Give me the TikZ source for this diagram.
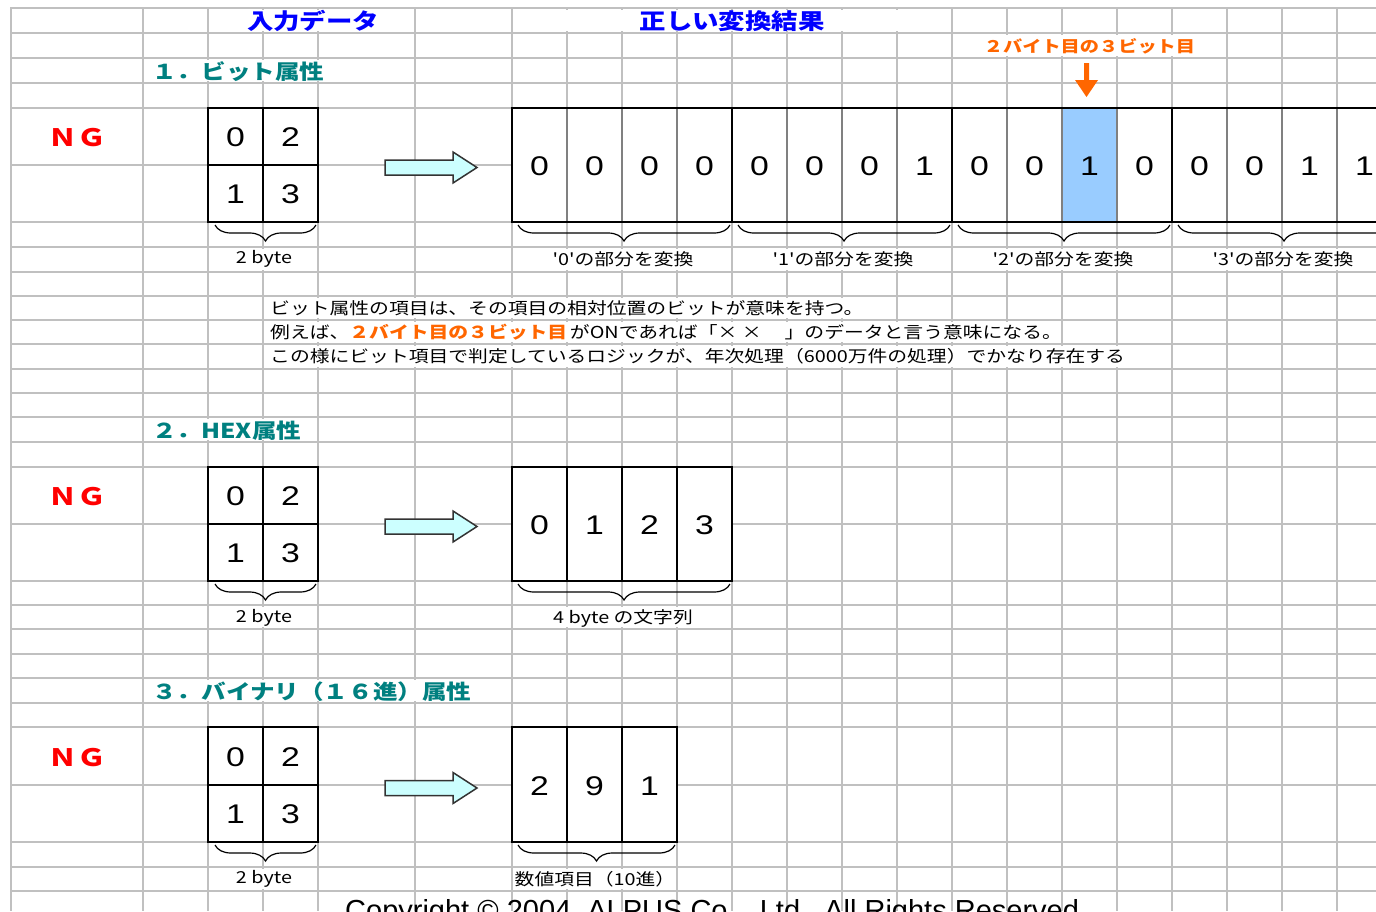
\documentclass[tikz,border=0pt]{standalone}
\usepackage{fontspec}
\setmainfont{Liberation Sans}
\newfontfamily\jp[FakeStretch=1.2]{Noto Sans CJK JP}
\newfontfamily\dig[FakeStretch=1.25]{Liberation Sans}
\usetikzlibrary{decorations.pathreplacing}
\definecolor{gridc}{HTML}{C0C0C0}
\definecolor{tealc}{HTML}{008080}
\definecolor{orangec}{HTML}{FF6600}
\definecolor{bluec}{HTML}{0000FF}
\definecolor{cyanc}{HTML}{CCFFFF}
\definecolor{bitblue}{HTML}{99CCFF}
\definecolor{bitgray}{HTML}{808080}
\definecolor{ngred}{HTML}{FF0000}
\begin{document}
\begin{tikzpicture}[x=1pt,y=-1pt,
  gridline/.style={draw=gridc, line width=1.8pt},
  mask/.style={fill=white},
  boxline/.style={draw=black, line width=2pt},
  bitline/.style={draw=bitgray, line width=2pt},
  digit/.style={font=\dig\fontsize{27}{30}\selectfont, inner sep=0pt},
  lbl/.style={font=\jp\fontsize{16.5}{20}\selectfont, inner sep=0pt},
  sect/.style={font=\jp\bfseries\fontsize{20.5}{24}\selectfont, text=tealc, anchor=west, inner sep=0pt},
  head/.style={font=\jp\bfseries\fontsize{22}{26}\selectfont, text=bluec, inner sep=0pt},
  ng/.style={font=\jp\bfseries\fontsize{24}{26}\selectfont, text=ngred, inner sep=0pt},
  bracebar/.style={decorate, decoration={brace, mirror, amplitude=16pt, aspect=0.5}, line width=1.2pt},
  blockarrow/.style={fill=cyanc, draw=black!80, line width=1.5pt, line join=miter}
]
\useasboundingbox (0,0) rectangle (1376,911);
\clip (0,0) rectangle (1376,911);
\fill[white] (0,0) rectangle (1376,911);

% ---------- grid ----------
\foreach \yy in {8,33,58,83,108,165,222,247,272,296,320,344,369,393,417,442,467,524,581,605,629,654,678,703,727,785,842,867,891}
  \draw[gridline] (10.1,\yy) -- (1376,\yy);
\foreach \xx in {11,143,208,263,318,415,512,567,...,1392}
  \draw[gridline] (\xx,7.1) -- (\xx,911);

% ---------- hidden grid segments (merged cells / overflowing text) ----------
\fill[mask] (211,10) rectangle (412,31);
\fill[mask] (515,10) rectangle (949,31);
\fill[mask] (955,35) rectangle (1224,56);
\fill[mask] (146,60) rectangle (412,81);
\fill[mask] (211,249) rectangle (315,270);
\fill[mask] (515,249) rectangle (729,270);
\fill[mask] (735,249) rectangle (949,270);
\fill[mask] (955,249) rectangle (1169,270);
\fill[mask] (1175,249) rectangle (1389,270);
\fill[mask] (266,298) rectangle (894,318);
\fill[mask] (266,322) rectangle (1059,342);
\fill[mask] (266,346) rectangle (1169,367);
\fill[mask] (146,419) rectangle (315,440);
\fill[mask] (211,607) rectangle (315,627);
\fill[mask] (515,607) rectangle (729,627);
\fill[mask] (146,680) rectangle (509,701);
\fill[mask] (211,869) rectangle (315,889);
\fill[mask] (515,869) rectangle (674,889);

% ---------- headers ----------
\node[head] (hin) at (313,21) {入力データ};
\node[head] (hout) at (732,21) {正しい変換結果};

% ---------- section titles ----------
\node[sect] (s1) at (152,72) {１．ビット属性};
\node[sect] (s2) at (152,431) {２．HEX属性};
\node[sect] (s3) at (152,692) {３．バイナリ（１６進）属性};

% ---------- NG ----------
\node[ng] (ng1) at (77.5,138) {ＮＧ};
\node[ng] (ng2) at (77.5,497) {ＮＧ};
\node[ng] (ng3) at (77.5,758) {ＮＧ};

% ---------- input boxes ----------
\foreach \t/\m/\b/\s in {108/165/222/1, 467/524/581/2, 727/785/842/3}{
  \filldraw[fill=white, boxline] (208,\t) rectangle (318,\b);
  \draw[boxline] (263,\t) -- (263,\b);
  \draw[boxline] (208,\m) -- (318,\m);
  \node[digit] (in\s a) at (235.5,{(\t+\m)/2+1}) {0};
  \node[digit] (in\s b) at (290.5,{(\t+\m)/2+1}) {2};
  \node[digit] (in\s c) at (235.5,{(\m+\b)/2+1}) {1};
  \node[digit] (in\s d) at (290.5,{(\m+\b)/2+1}) {3};
  \draw[bracebar] (215,{\b+3}) -- (316,{\b+3});
  \node[lbl] (byte\s) at (264,{\b+37}) {2 byte};
}

% ---------- block arrows ----------
\foreach \c in {167.5,526.5,788}{
  \draw[blockarrow] (385,{\c-7.5}) -- (453,{\c-7.5}) -- (453,{\c-15.5}) -- (477,\c)
     -- (453,{\c+15.5}) -- (453,{\c+7.5}) -- (385,{\c+7.5}) -- cycle;
}

% ---------- section 1 output ----------
\fill[white] (512,108) rectangle (1392,222);
\fill[bitblue] (1062,108) rectangle (1117,222);
\foreach \xx in {567,622,677,787,842,897,1007,1062,1117,1227,1282,1337}
  \draw[bitline] (\xx,108) -- (\xx,222);
\foreach \xx in {732,952,1172}
  \draw[boxline] (\xx,108) -- (\xx,222);
\draw[boxline] (512,108) rectangle (1392,222);
\foreach \d [count=\i from 0] in {0,0,0,0,0,0,0,1,0,0,1,0,0,0,1,1}
  \node[digit] (bit\i) at ({539.5+55*\i},166.5) {\d};
\draw[bracebar] (518,225) -- (730,225);
\draw[bracebar] (738,225) -- (950,225);
\draw[bracebar] (958,225) -- (1170,225);
\draw[bracebar] (1178,225) -- (1390,225);
\node[lbl] (p0) at (623,259) {'0'の部分を変換};
\node[lbl] (p1) at (843,259) {'1'の部分を変換};
\node[lbl] (p2) at (1063,259) {'2'の部分を変換};
\node[lbl] (p3) at (1283,259) {'3'の部分を変換};

% orange pointer
\node[font=\jp\bfseries\fontsize{16}{20}\selectfont, text=orangec, inner sep=0pt] (ptr) at (1089.5,46) {２バイト目の３ビット目};
\fill[orangec] (1084,63) -- (1089,63) -- (1089,80) -- (1098,80) -- (1086.5,97)
   -- (1075,80) -- (1084,80) -- cycle;

% explanation
\node[lbl, anchor=west] (t1) at (270,308) {ビット属性の項目は、その項目の相対位置のビットが意味を持つ。};
\node[lbl, anchor=west] (t2) at (270,332) {例えば、{\bfseries\color{orangec}２バイト目の３ビット目}\,がONであれば「×\ ×\hspace{1.4em}」のデータと言う意味になる。};
\node[lbl, anchor=west] (t3) at (270,356) {この様にビット項目で判定しているロジックが、年次処理（6000万件の処理）でかなり存在する};

% ---------- section 2 output ----------
\filldraw[fill=white, boxline] (512,467) rectangle (732,581);
\foreach \xx in {567,622,677}
  \draw[boxline] (\xx,467) -- (\xx,581);
\foreach \d [count=\i from 0] in {0,1,2,3}
  \node[digit] (hex\i) at ({539.5+55*\i},525) {\d};
\draw[bracebar] (518,584) -- (730,584);
\node[lbl] (hexlbl) at (623,618) {4 byte の文字列};

% ---------- section 3 output ----------
\filldraw[fill=white, boxline] (512,727) rectangle (677,842);
\foreach \xx in {567,622}
  \draw[boxline] (\xx,727) -- (\xx,842);
\foreach \d [count=\i from 0] in {2,9,1}
  \node[digit] (dec\i) at ({539.5+55*\i},786) {\d};
\draw[bracebar] (518,845) -- (675,845);
\node[lbl] (declbl) at (595,879) {数値項目（10進）};

% ---------- copyright (cut by the lower edge, as in the reference) ----------
\node[font=\fontsize{29}{32}\selectfont, anchor=base west, inner sep=0pt] (copy) at (345,920) {Copyright © 2004\ \ ALPUS Co.,\ \ Ltd.\ \ All Rights Reserved};
\end{tikzpicture}
\end{document}
